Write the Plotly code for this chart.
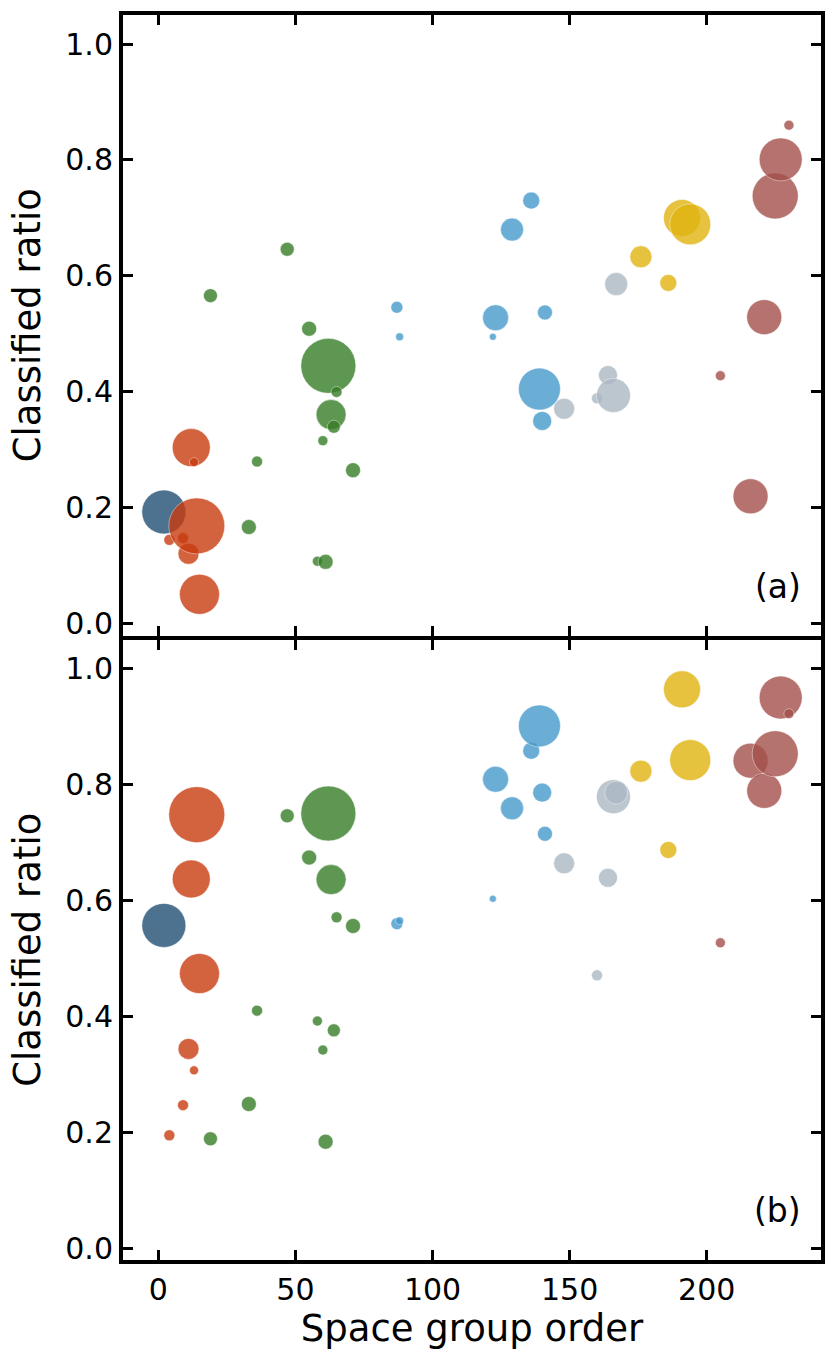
import plotly.graph_objects as go
from plotly.subplots import make_subplots

# ---- data -------------------------------------------------------------
systems = ["Triclinic", "Monoclinic", "Orthorhombic", "Tetragonal",
           "Trigonal", "Hexagonal", "Cubic"]

sg_triclinic = [2]
size_triclinic = [44]
ratio_a_triclinic = [0.193]
ratio_b_triclinic = [0.557]

sg_monoclinic = [4, 9, 11, 12, 13, 14, 15]
size_monoclinic = [11, 11, 21, 38, 9, 56, 40]
ratio_a_monoclinic = [0.145, 0.148, 0.121, 0.304, 0.279, 0.169, 0.051]
ratio_b_monoclinic = [0.195, 0.247, 0.344, 0.637, 0.307, 0.748, 0.474]

sg_orthorhombic = [19, 33, 36, 47, 55, 58, 60, 61, 62, 63, 64, 65, 71]
size_orthorhombic = [14, 15, 11, 14, 15, 10, 10, 15, 55, 30, 13, 11, 15]
ratio_a_orthorhombic = [0.566, 0.167, 0.280, 0.646, 0.509, 0.108, 0.316,
                        0.107, 0.445, 0.361, 0.340, 0.400, 0.265]
ratio_b_orthorhombic = [0.189, 0.249, 0.410, 0.746, 0.674, 0.392, 0.342,
                        0.184, 0.750, 0.636, 0.376, 0.571, 0.556]

sg_tetragonal = [87, 88, 122, 123, 129, 136, 139, 140, 141]
size_tetragonal = [12, 8, 7, 26, 23, 17, 42, 19, 15]
ratio_a_tetragonal = [0.546, 0.495, 0.495, 0.528, 0.680, 0.730, 0.405, 0.350, 0.537]
ratio_b_tetragonal = [0.560, 0.565, 0.603, 0.809, 0.759, 0.858, 0.901, 0.786, 0.715]

sg_trigonal = [148, 160, 164, 166, 167]
size_trigonal = [21, 11, 19, 34, 23]
ratio_a_trigonal = [0.371, 0.389, 0.429, 0.394, 0.586]
ratio_b_trigonal = [0.664, 0.471, 0.639, 0.779, 0.786]

sg_hexagonal = [176, 186, 191, 194]
size_hexagonal = [22, 17, 37, 41]
ratio_a_hexagonal = [0.633, 0.588, 0.700, 0.689]
ratio_b_hexagonal = [0.823, 0.687, 0.964, 0.842]

sg_cubic = [205, 216, 221, 225, 227, 230]
size_cubic = [10, 35, 35, 46, 43, 10]
ratio_a_cubic = [0.428, 0.220, 0.529, 0.738, 0.801, 0.860]
ratio_b_cubic = [0.527, 0.841, 0.789, 0.853, 0.950, 0.922]

colors = ["rgb(32,80,117)", "rgb(201,59,15)", "rgb(55,126,39)",
          "rgb(70,154,204)", "rgb(171,184,196)", "rgb(224,180,16)",
          "rgb(163,80,74)"]

sgs = [sg_triclinic, sg_monoclinic, sg_orthorhombic, sg_tetragonal,
       sg_trigonal, sg_hexagonal, sg_cubic]
sizes = [size_triclinic, size_monoclinic, size_orthorhombic, size_tetragonal,
         size_trigonal, size_hexagonal, size_cubic]
ratios_a = [ratio_a_triclinic, ratio_a_monoclinic, ratio_a_orthorhombic,
            ratio_a_tetragonal, ratio_a_trigonal, ratio_a_hexagonal, ratio_a_cubic]
ratios_b = [ratio_b_triclinic, ratio_b_monoclinic, ratio_b_orthorhombic,
            ratio_b_tetragonal, ratio_b_trigonal, ratio_b_hexagonal, ratio_b_cubic]

# ---- figure -----------------------------------------------------------
fig = make_subplots(rows=2, cols=1, shared_xaxes=True, vertical_spacing=0)

for row, ratios in ((1, ratios_a), (2, ratios_b)):
    for name, sg, sz, r, c in zip(systems, sgs, sizes, ratios, colors):
        fig.add_trace(go.Scatter(
            x=sg, y=r, mode="markers", name=name, showlegend=False,
            marker=dict(size=sz, color=c, opacity=0.8,
                        line=dict(color="rgba(255,255,255,0.5)", width=1)),
        ), row=row, col=1)

font = "DejaVu Sans, Arial, sans-serif"
axis_common = dict(
    showline=True, linecolor="black", linewidth=4, mirror="ticks",
    ticks="inside", ticklen=10, tickwidth=2.5, tickcolor="black",
    showgrid=False, zeroline=False,
    tickfont=dict(family=font, size=30, color="black"),
)

H_PLOT = 1364 - 15 - 104
gap = 2.0 / H_PLOT

for i in (1, 2):
    fig.update_xaxes(range=[-12.9, 241.7], tickvals=[0, 50, 100, 150, 200],
                     row=i, col=1, **axis_common)
    fig.update_yaxes(range=[-0.02, 1.05], tickvals=[0, 0.2, 0.4, 0.6, 0.8, 1.0],
                     tickformat=".1f", row=i, col=1,
                     title=dict(text="Classified ratio", standoff=14,
                                font=dict(family=font, size=37, color="black")),
                     **axis_common)

fig.update_yaxes(domain=[0.5 + gap, 1.0], row=1, col=1)
fig.update_yaxes(domain=[0.0, 0.5 - gap], row=2, col=1)

fig.update_xaxes(showticklabels=False, row=1, col=1)
fig.update_xaxes(title=dict(text="Space group order", standoff=8,
                            font=dict(family=font, size=37, color="black")),
                 row=2, col=1)

for lbl, ax in (("(a)", "y"), ("(b)", "y2")):
    fig.add_annotation(text=lbl, xref="x domain", yref=ax + " domain",
                       x=0.974, y=0.0795, xanchor="right", yanchor="middle",
                       showarrow=False,
                       font=dict(family=font, size=33, color="black"))

fig.update_layout(
    width=836, height=1364,
    margin=dict(l=123, r=15, t=15, b=104),
    paper_bgcolor="white", plot_bgcolor="white",
    showlegend=False,
)

fig.write_html("out.html")
